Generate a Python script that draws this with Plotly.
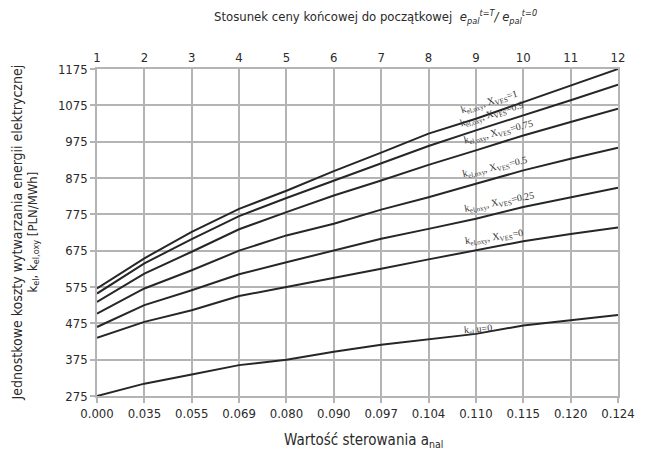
import plotly.graph_objects as go

# Data
a_nal_labels = ["0.000", "0.035", "0.055", "0.069", "0.080", "0.090", "0.097",
                "0.104", "0.110", "0.115", "0.120", "0.124"]
price_ratio_labels = ["1", "2", "3", "4", "5", "6", "7", "8", "9", "10", "11", "12"]

k_oxy_x1 = [571, 654, 727, 790, 840, 894, 945, 997, 1038, 1084, 1130, 1175]
k_oxy_x09 = [557, 640, 707, 770, 820, 868, 917, 963, 1006, 1047, 1089, 1132]
k_oxy_x075 = [534, 612, 672, 734, 781, 827, 868, 911, 951, 992, 1029, 1066]
k_oxy_x05 = [502, 571, 621, 675, 717, 749, 788, 822, 859, 896, 928, 958]
k_oxy_x025 = [465, 525, 566, 610, 643, 676, 708, 735, 763, 795, 822, 848]
k_oxy_x0 = [435, 479, 511, 550, 575, 599, 625, 651, 676, 701, 721, 739]
k_el_u0 = [275, 309, 334, 360, 375, 397, 416, 432, 446, 469, 483, 498]

series = [k_oxy_x1, k_oxy_x09, k_oxy_x075, k_oxy_x05, k_oxy_x025, k_oxy_x0, k_el_u0]
series_labels = [
    "k<sub>el,oxy</sub>, X<sub>VES</sub>=1",
    "k<sub>el,oxy</sub>, X<sub>VES</sub>=0.9",
    "k<sub>el,oxy</sub>, X<sub>VES</sub>=0.75",
    "k<sub>el,oxy</sub>, X<sub>VES</sub>=0.5",
    "k<sub>el,oxy</sub>, X<sub>VES</sub>=0.25",
    "k<sub>el,oxy</sub>, X<sub>VES</sub>=0",
    "k<sub>el</sub> u=0",
]

idx = list(range(len(a_nal_labels)))

FONT = "Liberation Sans Narrow, Arial Narrow, DejaVu Sans Condensed, sans-serif"
TXT = "#2a2a2a"
GRID = "#b4b4b4"
FS = 13

fig = go.Figure()
for s in series:
    fig.add_trace(go.Scatter(x=idx, y=s, mode="lines",
                             line=dict(color="#262626", width=2),
                             showlegend=False, cliponaxis=False,
                             hoverinfo="skip"))
# invisible trace for the top axis
fig.add_trace(go.Scatter(x=idx, y=[None] * len(idx), xaxis="x2", mode="lines",
                         showlegend=False, hoverinfo="skip"))

# curve labels: (x index of label centre, vertical shift in px, angle)
label_pos = [
    (8.27, 12, -17),
    (8.34, 11, -17),
    (8.48, 11, -14),
    (8.40, 11, -12.5),
    (8.50, 10, -11),
    (8.38, 9, -8),
    (8.05, 4, -5),
]
for s, txt, (xi, dy, ang) in zip(series, series_labels, label_pos):
    i0 = int(xi)
    f = xi - i0
    yv = s[i0] + (s[i0 + 1] - s[i0]) * f
    fig.add_annotation(x=xi, y=yv, text=txt, showarrow=False, textangle=ang,
                       xanchor="center", yanchor="middle", yshift=dy,
                       font=dict(family="Liberation Serif, Times New Roman, serif",
                                 size=10, color="#333333"))

fig.update_layout(
    width=647, height=450,
    margin=dict(l=97, r=17, t=69, b=54),
    paper_bgcolor="white", plot_bgcolor="white",
    font=dict(family=FONT, size=FS, color=TXT),
    xaxis=dict(range=[0, 11], tickmode="array", tickvals=idx, ticktext=a_nal_labels,
               showgrid=True, gridcolor=GRID, gridwidth=1.5,
               showline=True, linecolor=GRID, linewidth=1.5,
               ticks="outside", ticklen=5, tickcolor=GRID, tickwidth=1.5,
               zeroline=False, tickfont=dict(size=FS, color=TXT)),
    xaxis2=dict(range=[0, 11], overlaying="x", side="top", tickmode="array",
                tickvals=idx, ticktext=price_ratio_labels, showgrid=False,
                showline=True, linecolor=GRID, linewidth=1.5, ticks="",
                zeroline=False, tickfont=dict(size=FS, color=TXT)),
    yaxis=dict(range=[275, 1175], tick0=275, dtick=100,
               showgrid=True, gridcolor=GRID, gridwidth=1.5,
               showline=True, linecolor=GRID, linewidth=1.5, mirror=True,
               ticks="outside", ticklen=5, tickcolor=GRID, tickwidth=1.5,
               zeroline=False, tickfont=dict(size=FS, color=TXT)),
)

# axis titles
fig.add_annotation(xref="paper", yref="paper", x=0.5, y=1, yshift=52, xshift=18,
                   yanchor="middle", showarrow=False,
                   text="Stosunek ceny końcowej do początkowej  <i>e<sub>pal</sub><sup>t=T</sup>/ e<sub>pal</sub><sup>t=0</sup></i>",
                   font=dict(family=FONT, size=FS, color=TXT))
fig.add_annotation(xref="paper", yref="paper", x=0.5, y=0, yshift=-44, xshift=6,
                   yanchor="middle", showarrow=False,
                   text="Wartość sterowania a<sub>nal</sub>",
                   font=dict(family=FONT, size=15, color=TXT))
fig.add_annotation(xref="paper", yref="paper", x=0, xshift=-81, y=0.5,
                   xanchor="center", showarrow=False, textangle=-90,
                   text="Jednostkowe koszty wytwarzania energii elektrycznej",
                   font=dict(family=FONT, size=FS + 1, color=TXT))
fig.add_annotation(xref="paper", yref="paper", x=0, xshift=-64, y=0.5,
                   xanchor="center", showarrow=False, textangle=-90,
                   text="k<sub>el</sub>, k<sub>el,oxy</sub> [PLN/MWh]",
                   font=dict(family=FONT, size=FS, color=TXT))

fig.write_html("out.html")
